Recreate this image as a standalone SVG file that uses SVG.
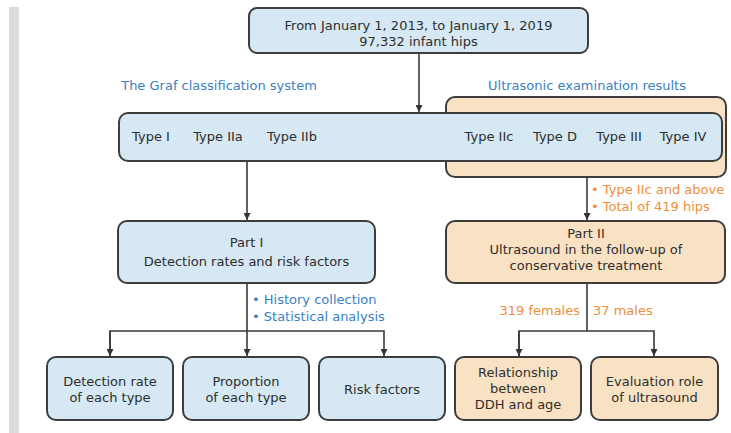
<svg xmlns="http://www.w3.org/2000/svg" width="731" height="433" viewBox="0 0 731 433">
<defs>
<marker id="arr" viewBox="0 0 10 10" refX="10" refY="5" markerWidth="7" markerHeight="7" markerUnits="userSpaceOnUse" orient="auto">
<path d="M0,0 L10,5 L0,10 z" fill="#333"/>
</marker>
<style>
.blue{fill:#d5e8f3;stroke:#3d3d3d;stroke-width:2}
.orange{fill:#f9e2c3;stroke:#3d3d3d;stroke-width:2}
text{font-family:"DejaVu Sans","Liberation Sans",sans-serif;font-size:13px;fill:#2e2e2e;text-anchor:middle}
.lb{fill:#3a7fc0;text-anchor:start}
.lo{fill:#ee8e3a;text-anchor:start}
.c{fill:none;stroke:#3a3a3a;stroke-width:1.6}
</style>
</defs>
<rect x="9" y="7" width="10" height="426" fill="#dcdcdc"/>

<g id="connectors">
<line class="c" x1="419" y1="53" x2="419" y2="112" marker-end="url(#arr)"/>
<line class="c" x1="247" y1="161" x2="247" y2="220" marker-end="url(#arr)"/>
<line class="c" x1="587" y1="177" x2="587" y2="220" marker-end="url(#arr)"/>
<polyline class="c" points="247,283 247,331"/>
<polyline class="c" points="110,356 110,331 384,331 384,356" marker-end="url(#arr)"/>
<line class="c" x1="110" y1="331" x2="110" y2="356" marker-end="url(#arr)"/>
<line class="c" x1="247" y1="331" x2="247" y2="356" marker-end="url(#arr)"/>
<polyline class="c" points="587,283 587,331"/>
<polyline class="c" points="519,356 519,331 654,331 654,356" marker-end="url(#arr)"/>
<line class="c" x1="519" y1="331" x2="519" y2="356" marker-end="url(#arr)"/>
</g>

<g id="top">
<rect class="blue" x="249" y="8" width="339" height="45" rx="8"/>
<text x="418.5" y="30">From January 1, 2013, to January 1, 2019</text>
<text x="418.5" y="46">97,332 infant hips</text>
</g>

<text x="219" y="90" style="fill:#3a7fc0">The Graf classification system</text>
<text x="587" y="90" style="fill:#3a7fc0">Ultrasonic examination results</text>

<g id="results">
<rect class="orange" x="446" y="97" width="280" height="80" rx="9"/>
</g>
<g id="types">
<rect class="blue" x="119" y="113" width="603" height="48" rx="9"/>
<text x="151" y="141">Type I</text>
<text x="218" y="141">Type IIa</text>
<text x="292" y="141">Type IIb</text>
<text x="489" y="141">Type IIc</text>
<text x="555" y="141">Type D</text>
<text x="619" y="141">Type III</text>
<text x="683" y="141">Type IV</text>
</g>

<text class="lo" x="591" y="194">• Type IIc and above</text>
<text class="lo" x="591" y="211">• Total of 419 hips</text>

<g id="part1">
<rect class="blue" x="118" y="221" width="257" height="62" rx="9"/>
<text x="246.5" y="247">Part I</text>
<text x="246.5" y="266">Detection rates and risk factors</text>
</g>
<g id="part2">
<rect class="orange" x="446" y="221" width="279" height="62" rx="9"/>
<text x="586" y="238">Part II</text>
<text x="586" y="254">Ultrasound in the follow-up of</text>
<text x="586" y="270">conservative treatment</text>
</g>

<text class="lb" x="252" y="304">• History collection</text>
<text class="lb" x="252" y="321">• Statistical analysis</text>
<text x="580" y="315" style="fill:#ee8e3a;text-anchor:end">319 females</text>
<text class="lo" x="593" y="315">37 males</text>

<g id="b1">
<rect class="blue" x="47" y="357" width="126" height="63" rx="9"/>
<text x="110" y="386">Detection rate</text>
<text x="110" y="402">of each type</text>
</g>
<g id="b2">
<rect class="blue" x="183" y="357" width="126" height="63" rx="9"/>
<text x="246" y="386">Proportion</text>
<text x="246" y="402">of each type</text>
</g>
<g id="b3">
<rect class="blue" x="319" y="357" width="126" height="63" rx="9"/>
<text x="382" y="394">Risk factors</text>
</g>
<g id="b4">
<rect class="orange" x="455" y="357" width="126" height="63" rx="9"/>
<text x="518" y="377">Relationship</text>
<text x="518" y="393">between</text>
<text x="518" y="409">DDH and age</text>
</g>
<g id="b5">
<rect class="orange" x="591" y="357" width="127" height="63" rx="9"/>
<text x="654.5" y="386">Evaluation role</text>
<text x="654.5" y="402">of ultrasound</text>
</g>
</svg>
